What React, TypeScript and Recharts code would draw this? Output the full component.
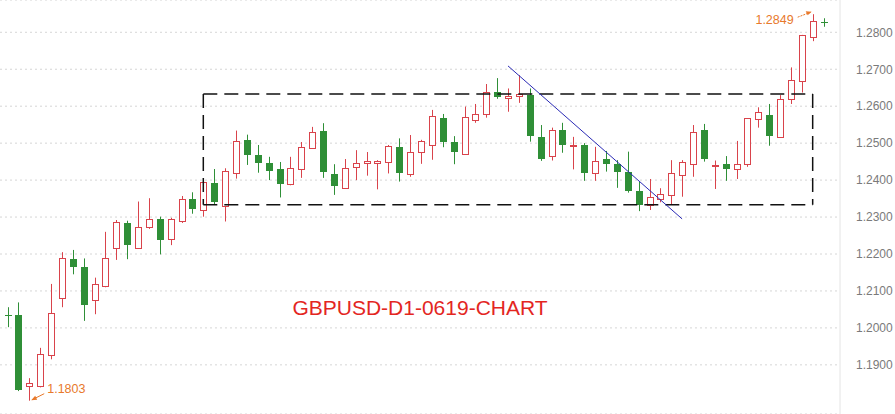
import {
  ComposedChart, Bar, XAxis, YAxis, CartesianGrid, ReferenceLine, ReferenceDot,
} from 'recharts'

const RED = '#d9434b'
const GREEN = '#2f8f37'
const ORANGE = '#e8792b'

// daily GBPUSD candles, oldest first
const opens = [
  1.2036, 1.2034, 1.1842, 1.1844, 1.1927, 1.2080, 1.2186, 1.2165, 1.2075, 1.2113,
  1.2217, 1.2285, 1.2217, 1.2274, 1.2296, 1.2240, 1.2288, 1.2348, 1.2318, 1.2392,
  1.2330, 1.2418, 1.2509, 1.2468, 1.2446, 1.2430, 1.2389, 1.2431, 1.2488, 1.2533,
  1.2417, 1.2379, 1.2435, 1.2445, 1.2445, 1.2448, 1.2489, 1.2416, 1.2475, 1.2494,
  1.2567, 1.2503, 1.2470, 1.2563, 1.2578, 1.2638, 1.2623, 1.2627, 1.2630, 1.2516,
  1.2466, 1.2536, 1.2492, 1.2495, 1.2418, 1.2457, 1.2444, 1.2423, 1.2371, 1.2333,
  1.2349, 1.2360, 1.2414, 1.2443, 1.2536, 1.2438, 1.2444, 1.2429, 1.2443, 1.2565,
  1.2576, 1.2516, 1.2619, 1.2667, 1.2786, 1.2827,
]
const highs = [
  1.2056, 1.2069, 1.1864, 1.1946, 1.2119, 1.2205, 1.2211, 1.2188, 1.2136, 1.2260,
  1.2292, 1.2290, 1.2342, 1.2351, 1.2301, 1.2298, 1.2357, 1.2367, 1.2398, 1.2430,
  1.2432, 1.2534, 1.2523, 1.2495, 1.2463, 1.2449, 1.2463, 1.2503, 1.2544, 1.2554,
  1.2443, 1.2457, 1.2481, 1.2476, 1.2454, 1.2495, 1.2513, 1.2522, 1.2509, 1.2590,
  1.2579, 1.2519, 1.2599, 1.2606, 1.2660, 1.2676, 1.2648, 1.2684, 1.2648, 1.2549,
  1.2542, 1.2555, 1.2517, 1.2500, 1.2490, 1.2479, 1.2454, 1.2477, 1.2396, 1.2403,
  1.2378, 1.2454, 1.2454, 1.2549, 1.2552, 1.2453, 1.2465, 1.2506, 1.2568, 1.2597,
  1.2606, 1.2630, 1.2705, 1.2793, 1.2849, 1.2838,
]
const lows = [
  1.2002, 1.1829, 1.1803, 1.1839, 1.1915, 1.2056, 1.2145, 1.2019, 1.2037, 1.2110,
  1.2184, 1.2186, 1.2215, 1.2268, 1.2199, 1.2224, 1.2284, 1.2309, 1.2301, 1.2333,
  1.2288, 1.2404, 1.2441, 1.2420, 1.2400, 1.2353, 1.2386, 1.2406, 1.2485, 1.2406,
  1.2360, 1.2376, 1.2400, 1.2412, 1.2375, 1.2418, 1.2396, 1.2409, 1.2444, 1.2455,
  1.2489, 1.2443, 1.2468, 1.2555, 1.2569, 1.2620, 1.2585, 1.2609, 1.2504, 1.2452,
  1.2453, 1.2474, 1.2429, 1.2398, 1.2398, 1.2423, 1.2379, 1.2366, 1.2316, 1.2319,
  1.2340, 1.2333, 1.2355, 1.2409, 1.2450, 1.2376, 1.2398, 1.2403, 1.2436, 1.2542,
  1.2493, 1.2514, 1.2606, 1.2637, 1.2776, 1.2815,
]
const closes = [
  1.2034, 1.1833, 1.1851, 1.1929, 1.2040, 1.2188, 1.2166, 1.2063, 1.2118, 1.2188,
  1.2287, 1.2224, 1.2272, 1.2294, 1.2239, 1.2295, 1.2348, 1.2323, 1.2394, 1.2340,
  1.2424, 1.2505, 1.2469, 1.2447, 1.2425, 1.2390, 1.2432, 1.2489, 1.2529, 1.2423,
  1.2385, 1.2432, 1.2445, 1.2452, 1.2451, 1.2492, 1.2418, 1.2475, 1.2506, 1.2573,
  1.2504, 1.2477, 1.2570, 1.2579, 1.2638, 1.2626, 1.2627, 1.2634, 1.2520, 1.2457,
  1.2536, 1.2494, 1.2494, 1.2418, 1.2452, 1.2444, 1.2423, 1.2371, 1.2333, 1.2353,
  1.2362, 1.2418, 1.2448, 1.2531, 1.2457, 1.2440, 1.2431, 1.2443, 1.2567, 1.2585,
  1.2519, 1.2619, 1.2670, 1.2792, 1.2830, 1.2825,
]

const priceTicks = [1.19, 1.2, 1.21, 1.22, 1.23, 1.24, 1.25, 1.26, 1.27, 1.28]

// consolidation box and falling trendline (candle index, price)
const boxFrom = 18
const boxTo = 74
const boxTop = 1.2633
const boxBottom = 1.2333
const trendStart = { x: 46, y: 1.2709 }
const trendEnd = { x: 62, y: 1.2295 }

const lowMark = { x: 2, y: 1.1803, label: '1.1803' }
const highMark = { x: 74, y: 1.2849, label: '1.2849' }

const data = opens.map((o, i) => ({
  i, o, h: highs[i], l: lows[i], c: closes[i], range: [lows[i], highs[i]],
}))

function Candle(props: any) {
  const { x, y, width, height, payload } = props
  if (height == null || !payload) return null
  const { o, h, l, c } = payload
  const py = (v: number) => y + ((h - v) / (h - l)) * height
  const cx = Math.round(x + width / 2)
  const up = c > o
  const col = up ? RED : GREEN
  const top = Math.round(py(Math.max(o, c)))
  const bot = Math.round(py(Math.min(o, c)))
  const bh = Math.max(bot - top, 1)
  return (
    <g>
      <line x1={cx + 0.5} x2={cx + 0.5} y1={y} y2={y + height} stroke={col} strokeWidth={1} />
      {up ? (
        <rect x={cx - 2.5} y={top + 0.5} width={6} height={bh} fill="#fff" stroke={col} strokeWidth={1} />
      ) : (
        <rect x={cx - 3} y={top} width={7} height={bh} fill={col} />
      )}
    </g>
  )
}

function LowNote(props: any) {
  const { cx, cy } = props
  if (cx == null) return null
  return (
    <g>
      <line x1={cx + 15} y1={cy - 7} x2={cx + 3} y2={cy - 1} stroke={ORANGE} strokeWidth={1} />
      <path d={`M${cx + 2},${cy - 0.5} L${cx + 8},${cy - 1} L${cx + 6},${cy - 5} Z`} fill={ORANGE} />
      <text x={cx + 18} y={cy - 8} fill={ORANGE} fontSize={12.5} fontFamily="Liberation Sans, Arial, sans-serif">
        {lowMark.label}
      </text>
    </g>
  )
}

function HighNote(props: any) {
  const { cx, cy } = props
  if (cx == null) return null
  return (
    <g>
      <line x1={cx - 15} y1={cy + 3} x2={cx - 2} y2={cy - 2} stroke={ORANGE} strokeWidth={1} strokeDasharray="2 1" />
      <path d={`M${cx - 1},${cy - 2.5} L${cx - 7},${cy - 3} L${cx - 5},${cy + 1} Z`} fill={ORANGE} />
      <text x={cx - 19} y={cy + 10} textAnchor="end" fill={ORANGE} fontSize={12.5} fontFamily="Liberation Sans, Arial, sans-serif">
        {highMark.label}
      </text>
    </g>
  )
}

export default function App() {
  const dash = { stroke: '#111', strokeWidth: 1.5, strokeDasharray: '14 7' }
  return (
    <div style={{ position: 'absolute', left: 0, top: 0, width: 895, height: 414, background: '#fff' }}>
      <ComposedChart width={895} height={414} data={data} margin={{ top: 0, right: 0, bottom: 0, left: 0 }}>
        <CartesianGrid vertical={false} stroke="#d6d6d6" strokeDasharray="2 3" />
        <XAxis dataKey="i" type="category" hide padding={{ left: 2, right: 11 }} />
        <YAxis
          orientation="right"
          width={55}
          domain={[1.1767, 1.28874]}
          ticks={priceTicks}
          allowDataOverflow
          tickFormatter={(v: number) => v.toFixed(4)}
          axisLine={{ stroke: '#e4e4e4' }}
          tickLine={false}
          tickSize={0}
          tickMargin={16}
          tick={{ fill: '#7a7a7a', fontSize: 12, fontFamily: 'Liberation Sans, Arial, sans-serif', textAnchor: 'start' }}
        />
        <Bar dataKey="range" barSize={7} shape={<Candle />} isAnimationActive={false} />
        <ReferenceLine segment={[{ x: boxFrom, y: boxTop }, { x: boxTo, y: boxTop }]} {...dash} />
        <ReferenceLine segment={[{ x: boxFrom, y: boxBottom }, { x: boxTo, y: boxBottom }]} {...dash} />
        <ReferenceLine segment={[{ x: boxFrom, y: boxTop }, { x: boxFrom, y: boxBottom }]} {...dash} />
        <ReferenceLine segment={[{ x: boxTo, y: boxTop }, { x: boxTo, y: boxBottom }]} {...dash} />
        <ReferenceLine segment={[trendStart, trendEnd]} stroke="#2b2bb5" strokeWidth={1} />
        <ReferenceDot x={lowMark.x} y={lowMark.y} r={0} shape={<LowNote />} />
        <ReferenceDot x={highMark.x} y={highMark.y} r={0} shape={<HighNote />} />
      </ComposedChart>
      <div
        style={{
          position: 'absolute', left: 0, width: 840, top: 296, textAlign: 'center',
          color: '#e3261f', fontSize: 21, fontFamily: 'Liberation Sans, Arial, sans-serif',
        }}
      >
        GBPUSD-D1-0619-CHART
      </div>
    </div>
  )
}
